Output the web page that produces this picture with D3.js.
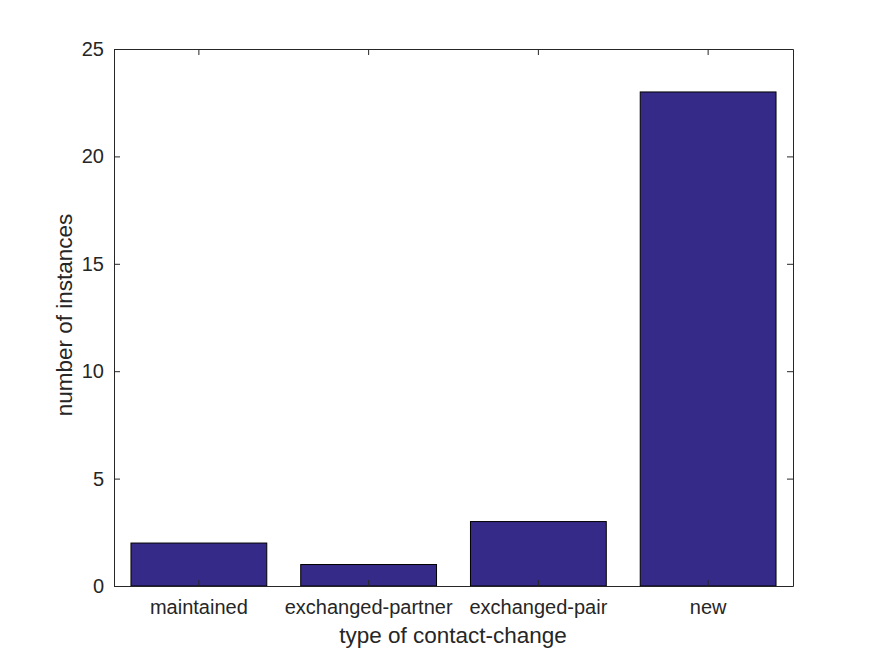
<!DOCTYPE html>
<html>
<head>
<meta charset="utf-8">
<script src="https://cdn.jsdelivr.net/npm/d3@7"></script>
<style>
  body { margin: 0; background: #fff; }
  text { font-family: "Liberation Sans", Arial, sans-serif; fill: #262626; }
</style>
</head>
<body>
<div class="chart"></div>
<script>
const w = 875;
const h = 656;

const categories = ["maintained", "exchanged-partner", "exchanged-pair", "new"];
const counts = [2, 1, 3, 23];
const yTicks = [0, 5, 10, 15, 20, 25];

const mLeft = 114, mRight = 793, mTop = 49, mBottom = 586;
const ink = "#262626";

const svg = d3.select(".chart")
  .append("svg")
  .attr("width", w)
  .attr("height", h);

const x = d3.scaleBand()
  .domain(categories)
  .range([mLeft, mRight])
  .paddingInner(0.2)
  .paddingOuter(0.1);

const y = d3.scaleLinear()
  .domain([0, 25])
  .range([mBottom, mTop]);

// bars
svg.append("g")
  .selectAll("rect")
  .data(categories)
  .enter().append("rect")
  .attr("x", d => x(d))
  .attr("y", (d, i) => y(counts[i]))
  .attr("width", x.bandwidth())
  .attr("height", (d, i) => y(0) - y(counts[i]))
  .attr("fill", "#352a87")
  .attr("stroke", "#000")
  .attr("stroke-width", 1);

// axes, ticks pointing inward (MATLAB style)
const yAxis = svg.append("g")
  .attr("transform", `translate(${mLeft},0)`)
  .call(d3.axisLeft(y).tickValues(yTicks).tickSizeInner(-6).tickSizeOuter(0).tickPadding(10));
const yAxisR = svg.append("g")
  .attr("transform", `translate(${mRight},0)`)
  .call(d3.axisRight(y).tickValues(yTicks).tickSizeInner(-6).tickSizeOuter(0).tickFormat(""));
const xAxis = svg.append("g")
  .attr("transform", `translate(0,${mBottom})`)
  .call(d3.axisBottom(x).tickSizeInner(-6).tickSizeOuter(0).tickPadding(14));
const xAxisT = svg.append("g")
  .attr("transform", `translate(0,${mTop})`)
  .call(d3.axisTop(x).tickSizeInner(-6).tickSizeOuter(0).tickFormat(""));

[yAxis, yAxisR, xAxis, xAxisT].forEach(g => {
  g.selectAll("path, line").attr("stroke", ink);
  g.selectAll("text").attr("font-size", "20px").attr("fill", ink)
    .attr("font-family", "'Liberation Sans', Arial, sans-serif");
});

// axis labels
svg.append("text")
  .attr("x", 453)
  .attr("y", 643)
  .attr("text-anchor", "middle")
  .attr("font-size", "22.5px")
  .text("type of contact-change");

svg.append("text")
  .attr("transform", `translate(72,315) rotate(-90)`)
  .attr("text-anchor", "middle")
  .attr("font-size", "22.5px")
  .text("number of instances");
</script>
</body>
</html>
